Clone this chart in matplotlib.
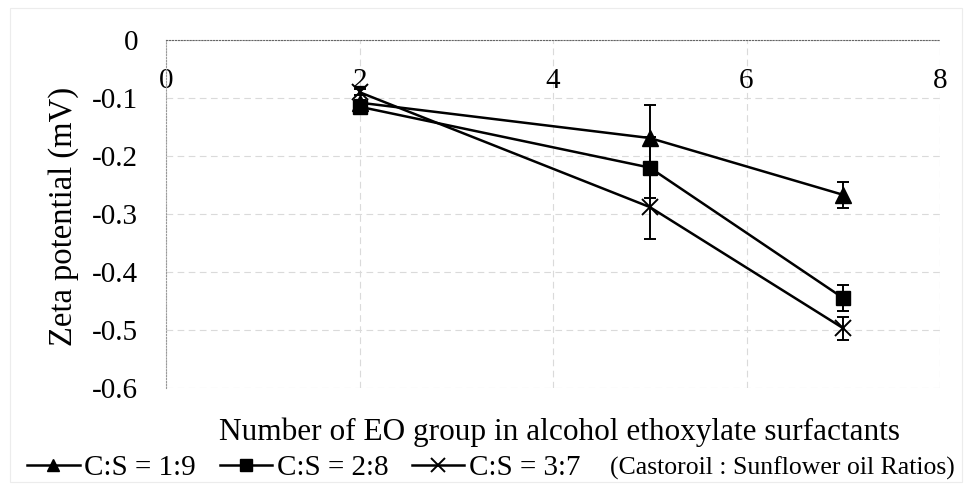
import matplotlib
matplotlib.use("Agg")
import matplotlib.pyplot as plt
from matplotlib.patches import Rectangle

plt.rcParams["font.family"] = ["Liberation Serif", "DejaVu Serif"]
plt.rcParams["axes.unicode_minus"] = False

# EO groups and zeta potential per castor:sunflower ratio
eo_groups = [2, 5, 7]
zeta_19 = [-0.108, -0.169, -0.267]
err_19 = [0.005, 0.057, 0.023]
zeta_28 = [-0.115, -0.220, -0.445]
err_28 = [0.005, 0.053, 0.023]
zeta_37 = [-0.090, -0.288, -0.497]
err_37 = [0.005, 0.055, 0.020]

series_labels = ["C:S = 1:9", "C:S = 2:8", "C:S = 3:7"]
x_ticks = [0, 2, 4, 6, 8]
y_ticks = [0, -0.1, -0.2, -0.3, -0.4, -0.5, -0.6]
y_tick_labels = ["0", "-0.1", "-0.2", "-0.3", "-0.4", "-0.5", "-0.6"]

fig = plt.figure(figsize=(9.71, 4.92), dpi=100)
ax = fig.add_axes([166 / 971, 1 - 388 / 492, (940 - 166) / 971, (388 - 40) / 492])

styles = [
    dict(marker="^", ms=11, mfc="black", mec="black"),
    dict(marker="s", ms=10.5, mfc="black", mec="black"),
    dict(marker="x", ms=12, mec="black", mew=1.4),
]
handles = []
for vals, errs, lab, st in zip([zeta_19, zeta_28, zeta_37],
                               [err_19, err_28, err_37], series_labels, styles):
    ax.errorbar(eo_groups, vals, yerr=errs, color="black", lw=1.8,
                capsize=4.5, elinewidth=1.4, capthick=1.4, zorder=3, **st)
    h, = ax.plot([], [], color="black", lw=1.8, label=lab, **st)
    handles.append(h)

ax.set_xlim(0, 8)
ax.set_ylim(-0.6, 0)
ax.set_xticks(x_ticks)
ax.set_yticks(y_ticks)
ax.set_yticklabels(y_tick_labels)
ax.tick_params(axis="both", length=0, labelsize=21)
ax.tick_params(axis="x", pad=20)
ax.tick_params(axis="y", pad=20)

ax.spines["bottom"].set_position(("data", 0))
ax.spines["bottom"].set_linestyle(":")
ax.spines["bottom"].set_color("#666666")
ax.spines["left"].set_linestyle(":")
ax.spines["left"].set_color("#999999")
ax.spines["top"].set_visible(False)
ax.spines["right"].set_visible(False)
ax.grid(True, color="#dadada", linestyle=(0, (6, 4)), lw=0.8)
ax.set_axisbelow(True)

fig.text(64 / 971, 1 - 216 / 492, "Zeta potential (mV)", rotation=90,
         ha="center", va="center", fontsize=23.5)
fig.text(559 / 971, 1 - 432 / 492,
         "Number of EO group in alcohol ethoxylate surfactants",
         ha="center", va="center", fontsize=22.5)

fig.legend(handles=handles, loc="center left", bbox_to_anchor=(27 / 971, 1 - 468 / 492),
           ncol=3, frameon=False, fontsize=21, handlelength=1.8,
           handletextpad=0.17, columnspacing=0.8, markerscale=0.85,
           borderaxespad=0, borderpad=0)
fig.text(610 / 971, 1 - 468 / 492, "(Castoroil : Sunflower oil Ratios)",
         ha="left", va="center", fontsize=18.5)

fig.patches.append(Rectangle((10 / 971, 0.02), 952 / 971, 1 - 8 / 492 - 0.02,
                             transform=fig.transFigure, fill=False,
                             edgecolor="#ececec", lw=0.8))

fig.savefig("out.png", dpi=100)
